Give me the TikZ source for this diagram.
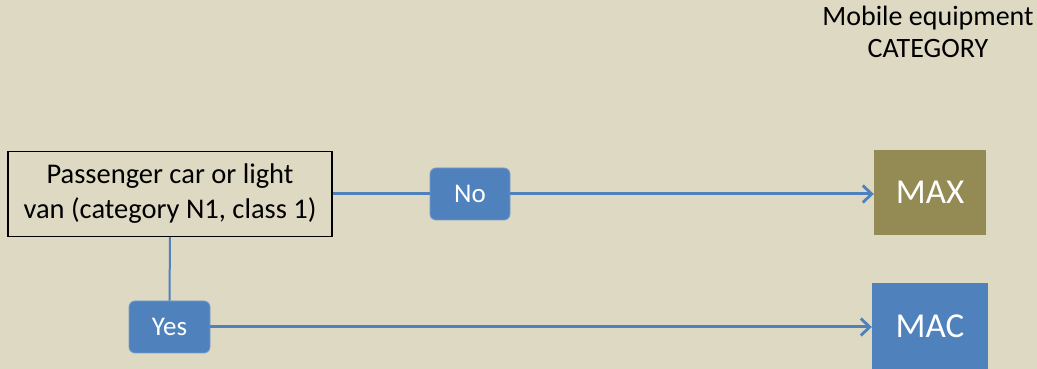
\documentclass[tikz,border=0pt]{standalone}
\usepackage{fontspec}
\setmainfont{Carlito}
\usetikzlibrary{arrows.meta}
\definecolor{bg}{RGB}{221,217,195}
\definecolor{pblue}{RGB}{79,129,189}
\definecolor{olive}{RGB}{148,138,84}
\definecolor{pborder}{RGB}{120,155,200}
\tikzset{
  decision/.style={draw=pborder, line width=0.8pt, fill=pblue, rounded corners=6pt, text=white, minimum width=80pt, minimum height=52pt, inner sep=0pt, font=\fontsize{27}{30}\selectfont},
  category/.style={text=white, minimum width=112pt, minimum height=85pt, inner sep=0pt, font=\fontsize{35}{40}\selectfont},
  question/.style={draw=black, line width=1.5pt, fill=bg, minimum width=324pt, minimum height=85pt, inner sep=0pt, align=center, font=\fontsize{28.5}{35}\selectfont},
  link/.style={draw=pblue, line width=3pt},
  arrowlink/.style={link, -{Straight Barb[length=9pt, width=17pt, line width=2.8pt]}},
}
\begin{document}
\begin{tikzpicture}[x=1pt,y=1pt]
\useasboundingbox (0,0) rectangle (1037,369);
\fill[bg] (0,0) rectangle (1037,369);
\node[align=center, font=\fontsize{28}{32}\selectfont] (title) at (928,337) {Mobile equipment\\CATEGORY};
\node[question] (q) at (170,175) {Passenger car or light\\van (category N1, class 1)};
\node[decision] (no) at (470,175) {No};
\node[decision, minimum width=81pt] (yes) at (169.5,42) {Yes};
\node[category, fill=olive] (max) at (930,176.5) {MAX};
\begin{scope}
\clip (0,0) rectangle (1037,369);
\node[category, fill=pblue, minimum width=116pt, minimum height=92pt] (mac) at (930,40) {};
\end{scope}
\node[text=white, font=\fontsize{35}{40}\selectfont] (mactext) at (930,43) {MAC};
\draw[link] (q.east) -- (no.west);
\draw[arrowlink] (no.east) -- (no.east -| max.west);
\draw[link, line width=2pt] (q.south) -- (yes.north);
\draw[arrowlink] (yes.east) -- (yes.east -| mac.west);
\end{tikzpicture}
\end{document}
